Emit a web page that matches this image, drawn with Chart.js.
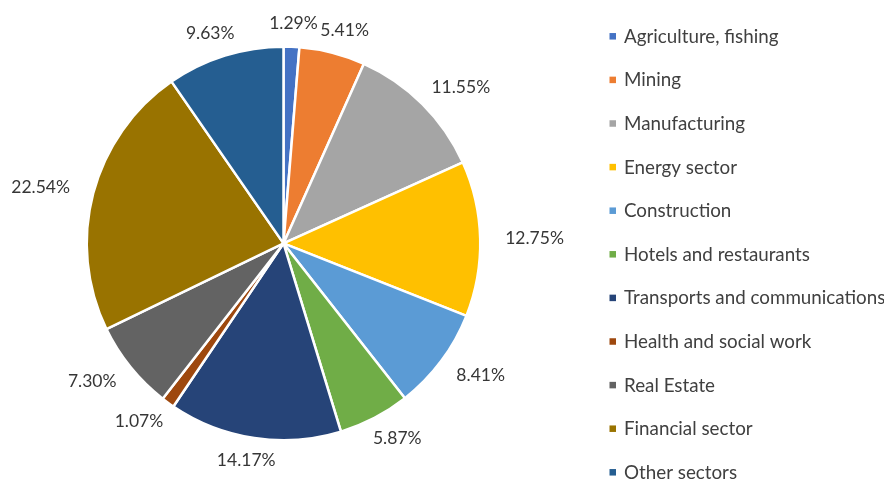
<!DOCTYPE html>
<html>
<head>
<meta charset="utf-8">
<script src="https://cdn.jsdelivr.net/npm/chart.js@4/dist/chart.umd.min.js"></script>
<style>
  html, body { margin: 0; padding: 0; background: #ffffff; }
  #wrap { width: 884px; height: 483px; position: relative; }
</style>
</head>
<body>
<div id="wrap"><canvas id="c" width="884" height="483"></canvas></div>
<script>
const categories = [
  "Agriculture, fishing", "Mining", "Manufacturing", "Energy sector", "Construction",
  "Hotels and restaurants", "Transports and communications", "Health and social work",
  "Real Estate", "Financial sector", "Other sectors"
];
const shares = [1.29, 5.41, 11.55, 12.75, 8.41, 5.87, 14.17, 1.07, 7.30, 22.54, 9.63];
const valueLabels = ["1.29%", "5.41%", "11.55%", "12.75%", "8.41%", "5.87%", "14.17%", "1.07%", "7.30%", "22.54%", "9.63%"];
const sliceColors = ["#4472C4", "#ED7D31", "#A5A5A5", "#FFC000", "#5B9BD5", "#70AD47",
                     "#264478", "#9E480E", "#636363", "#997300", "#255E91"];

const LABEL_COLOR = "#363636";
const LEGEND_COLOR = "#404040";
const LABEL_FONT = "17.5px Lato";
const LEGEND_FONT = "18.8px Lato";

const outsideLabels = {
  id: "outsideLabels",
  afterDatasetsDraw(chart) {
    const ctx = chart.ctx;
    const meta = chart.getDatasetMeta(0);
    ctx.save();
    ctx.font = LABEL_FONT;
    ctx.fillStyle = LABEL_COLOR;
    ctx.textAlign = "center";
    ctx.textBaseline = "middle";
    meta.data.forEach((arc, i) => {
      const p = arc.getProps(["x", "y", "startAngle", "endAngle", "outerRadius"], true);
      const mid = (p.startAngle + p.endAngle) / 2;
      const dx = Math.cos(mid), dy = Math.sin(mid);
      const text = valueLabels[i];
      const hw = ctx.measureText(text).width / 2 + 7;
      const hh = 5;
      const r = p.outerRadius + 18;
      const x = p.x + r * dx + hw * dx;
      const y = p.y + r * dy + hh * dy;
      ctx.fillText(text, x, y);
    });
    ctx.restore();
  }
};

const sideLegend = {
  id: "sideLegend",
  afterDraw(chart) {
    const ctx = chart.ctx;
    const ds = chart.data.datasets[0];
    const x0 = 609.5, y0 = 36.3, step = 43.6, box = 6.5;
    ctx.save();
    ctx.font = LEGEND_FONT;
    ctx.textBaseline = "middle";
    ctx.textAlign = "left";
    chart.data.labels.forEach((lab, i) => {
      const y = y0 + i * step;
      ctx.fillStyle = ds.backgroundColor[i];
      ctx.fillRect(x0, y - box / 2, box, box);
      ctx.fillStyle = LEGEND_COLOR;
      ctx.fillText(lab, 624, y + 0.5);
    });
    ctx.restore();
  }
};

new Chart(document.getElementById("c"), {
  type: "pie",
  data: {
    labels: categories,
    datasets: [{
      data: shares,
      backgroundColor: sliceColors,
      borderColor: "#ffffff",
      borderWidth: 2.5,
      hoverOffset: 0
    }]
  },
  options: {
    responsive: false,
    animation: false,
    events: [],
    layout: { padding: { left: 85.5, right: 402.5, top: 45.4, bottom: 41.6 } },
    plugins: {
      legend: { display: false },
      tooltip: { enabled: false }
    }
  },
  plugins: [outsideLabels, sideLegend]
});
</script>
</body>
</html>
